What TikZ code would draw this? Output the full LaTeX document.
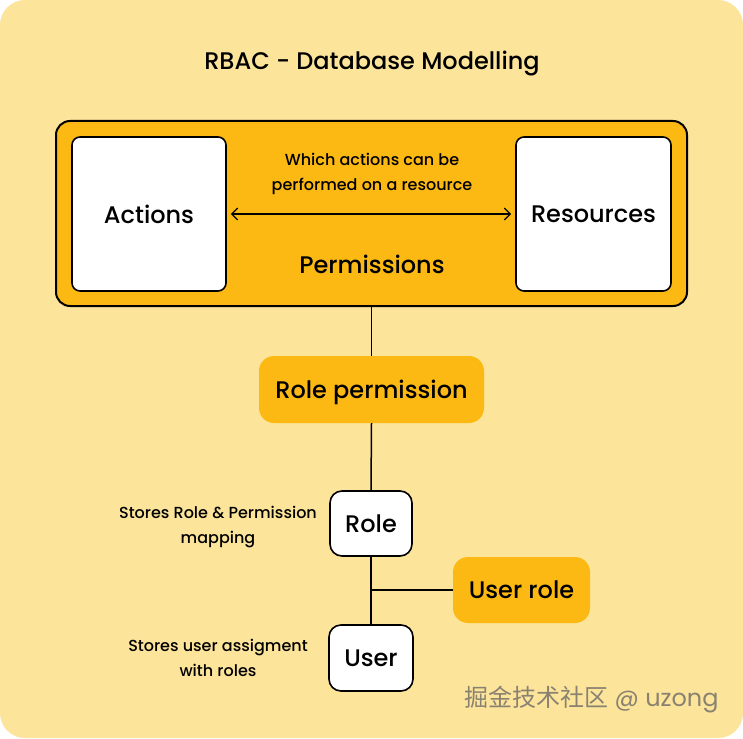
\documentclass[tikz,border=0pt]{standalone}
\usepackage{fontspec}
\setmainfont{Poppins}[UprightFont=* Medium]
\newfontfamily\cjkfont{Noto Sans CJK SC}
\newfontfamily\wmfont{Poppins}
\usetikzlibrary{arrows.meta}
\definecolor{bgyellow}{HTML}{FCE49B}
\definecolor{amber}{HTML}{FDB913}
\definecolor{wmgray}{HTML}{8A8270}
\tikzset{
  whitebox/.style={draw=black, line width=1.6pt, fill=white, rounded corners=8pt, inner sep=0pt},
  amberbox/.style={fill=amber, rounded corners=15pt, inner sep=0pt},
  big/.style={font=\fontsize{24}{28}\selectfont, text depth=0pt},
  small/.style={font=\fontsize{16}{25}\selectfont, align=center, text depth=0pt},
  conn/.style={line width=1.5pt, draw=black}
}
\begin{document}
\begin{tikzpicture}[x=1pt,y=-1pt]
\useasboundingbox (0,0) rectangle (743,738);
\fill[white] (0,0) rectangle (743,738);
\fill[bgyellow, rounded corners=25pt] (0,0) rectangle (743,738);
\node[big] (title) at (372,60) {RBAC - Database Modelling};
\draw[fill=amber, draw=black, line width=2pt, rounded corners=14pt] (56,121) rectangle (687,306);
\node[minimum width=631pt, minimum height=185pt, inner sep=0pt] (perm) at (371.5,213.5) {};
\node[big] (permlabel) at (372,264) {Permissions};
\node[whitebox, minimum width=154pt, minimum height=154pt, big] (actions) at (149,214) {Actions};
\node[whitebox, minimum width=155pt, minimum height=154pt, big] (resources) at (593.5,214) {Resources};
\node[small] (which) at (372,171.5) {Which actions can be\\performed on a resource};
\draw[conn, line width=1.3pt, {Straight Barb[length=6pt,width=12pt]}-{Straight Barb[length=6pt,width=12pt]}] ([xshift=4pt]actions.east) -- ([xshift=-4pt]resources.east -| resources.west);
\node[amberbox, minimum width=225pt, minimum height=67pt, big] (roleperm) at (371.5,389.5) {Role permission};
\node[whitebox, rounded corners=12pt, minimum width=82pt, minimum height=65pt, big] (role) at (371,523.5) {Role};
\node[whitebox, rounded corners=12pt, minimum width=84pt, minimum height=66pt, big] (user) at (371,658) {User};
\node[amberbox, minimum width=137pt, minimum height=66pt, big] (userrole) at (521.5,590) {User role};
\node[small] (rolenote) at (218,524.5) {Stores Role \& Permission\\mapping};
\node[small] (usernote) at (218,658) {Stores user assigment\\with roles};
\coordinate (junction) at (371,590);
\draw[conn] (perm.south) -- (roleperm.north);
\draw[conn] (roleperm.south) -- (role.north);
\draw[conn] (role.south) -- (user.north);
\draw[conn] (junction) -- (userrole.west);
\node[text=wmgray, font=\wmfont\fontsize{24}{28}\selectfont, anchor=east] (wm) at (722,700) {{\cjkfont 掘金技术社区} @ uzong};
\end{tikzpicture}
\end{document}
